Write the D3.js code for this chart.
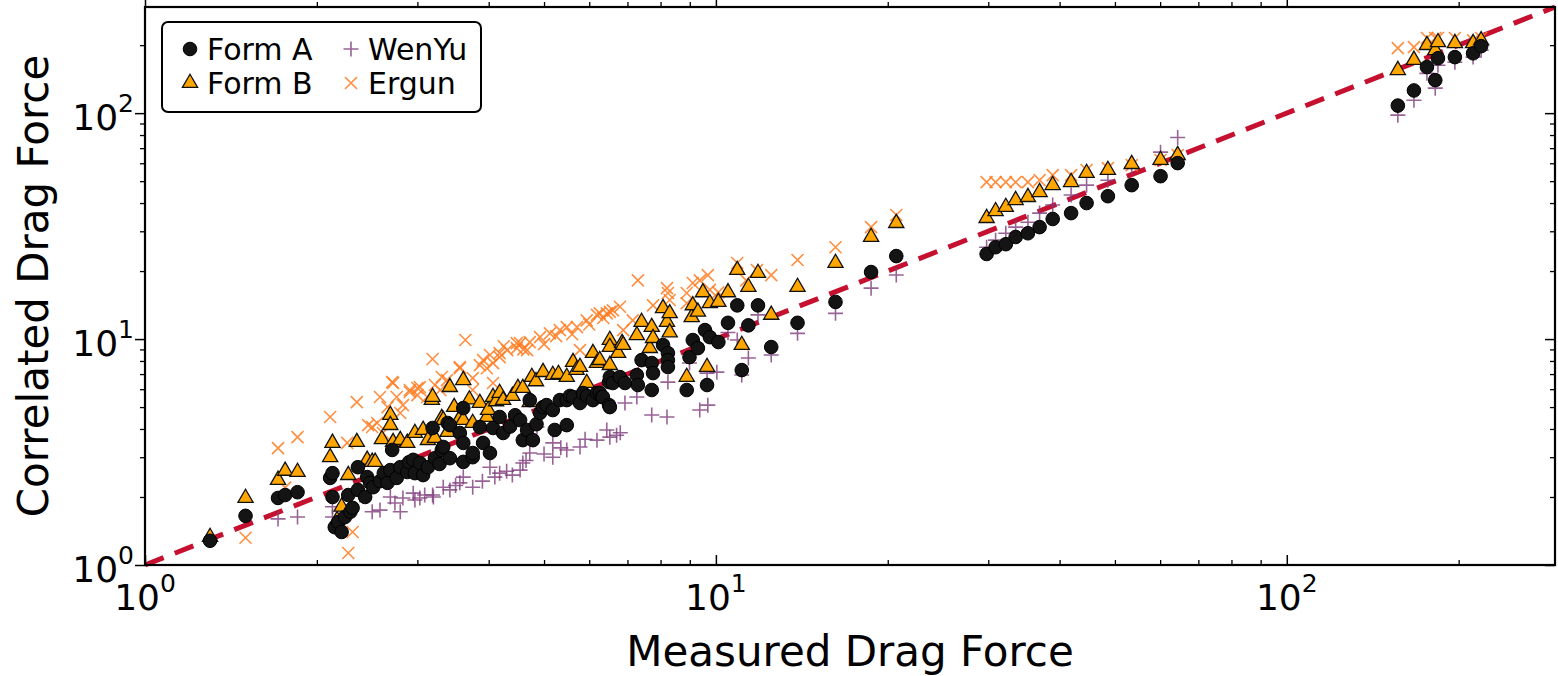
<!DOCTYPE html>
<html>
<head>
<meta charset="utf-8">
<script src="https://cdn.jsdelivr.net/npm/d3@7"></script>
<style>
  body { margin: 0; background: #fff; }
  text { font-family: "DejaVu Sans", sans-serif; }
</style>
</head>
<body>
<svg></svg>
<script>
// [measured, correlated] drag force pairs
const formA = [
  [1.30,1.28],[1.50,1.65],[1.71,1.98],[1.76,2.04],[1.85,2.10],
  [2.11,2.43],[2.13,2.55],[2.13,2.00],[2.15,1.47],[2.18,1.55],[2.21,1.40],[2.24,1.63],[2.27,2.04],[2.29,1.72],[2.31,1.79],
  [2.36,2.71],[2.36,2.15],[2.43,2.00],[2.45,2.45],[2.48,2.31],[2.51,2.21],[2.58,2.35],[2.62,2.55],
  [2.66,2.31],[2.69,2.63],[2.71,3.23],[2.76,2.43],[2.80,2.71],[2.88,2.58],[2.90,2.85],[2.95,2.92],[2.97,2.55],[3.03,2.83],[3.07,2.50],
  [3.13,2.71],[3.19,4.04],[3.22,2.97],[3.28,2.80],[3.31,3.23],[3.33,3.33],[3.39,4.25],[3.42,2.97],[3.42,4.16],[3.56,3.84],[3.61,3.47],
  [3.61,2.86],[3.61,4.95],[3.75,3.00],[3.75,3.13],[3.86,4.08],[3.91,3.47],[4.02,3.13],[4.07,4.04],[4.18,4.52],[4.24,3.84],
  [4.36,4.10],[4.45,4.60],[4.54,4.38],[4.59,3.57],[4.67,3.96],[4.72,5.37],[4.78,3.57],[4.85,4.20],[4.92,4.71],[4.98,5.00],
  [5.05,5.10],[5.18,4.85],[5.22,3.96],[5.33,5.37],[5.48,5.37],[5.48,4.16],[5.55,5.60],[5.62,5.54],[5.78,5.21],[5.85,5.77],
  [5.95,5.60],[6.09,5.37],[6.19,5.77],[6.26,5.77],[6.31,5.54],[6.34,5.54],
  [6.50,6.45],[6.50,5.10],[6.52,5.00],[6.52,6.79],[6.60,6.39],[6.79,6.79],[6.93,6.39],
  [7.27,6.93],[7.30,6.26],[7.41,8.07],[7.72,7.83],[7.72,5.95],[7.76,7.07],[8.08,9.41],[8.24,8.67],[8.24,8.07],[8.24,7.52],
  [8.89,5.95],[8.99,8.32],[9.11,9.90],[9.30,9.12],[9.57,10.96],[9.65,6.26],[9.76,10.2],[10.1,9.70],[10.5,11.8],[10.9,14.1],
  [11.1,7.29],[11.4,11.5],[11.85,14.1],[12.5,9.22],[13.9,11.8],[16.2,14.6],[18.7,19.8],[20.7,23.3],
  [29.8,23.8],[30.9,25.5],[32.2,26.3],[33.5,28.3],[35.2,29.4],[36.9,31.3],[38.9,34.0],[41.9,36.1],[44.6,40.0],[48.6,42.9],
  [53.5,48.0],[60.1,52.6],[64.4,60.1],
  [156.5,108],[167,126],[176,160],[182,140],[184,175],[197,177],[212,184],[219,198]
];

const formB = [
  [1.30,1.33],[1.50,1.98],[1.71,2.38],[1.76,2.61],[1.85,2.58],
  [2.11,3.00],[2.13,3.47],[2.17,1.58],[2.21,1.81],[2.27,2.50],[2.35,3.50],[2.45,2.92],[2.50,2.86],[2.53,2.86],[2.60,3.60],
  [2.69,4.61],[2.69,4.16],[2.72,3.50],[2.80,3.57],[2.88,3.47],[2.97,3.84],[3.07,3.96],[3.13,3.57],[3.18,5.37],[3.19,5.54],
  [3.22,3.65],[3.31,4.47],[3.33,4.38],[3.39,3.88],[3.42,6.13],[3.48,5.00],[3.56,4.47],[3.61,6.58],[3.61,4.38],[3.70,5.40],[3.75,4.25],
  [3.86,5.21],[3.97,4.52],[3.99,4.85],[4.07,5.54],[4.12,5.30],[4.18,5.77],[4.24,5.37],[4.40,5.60],[4.50,6.07],[4.59,6.07],
  [4.72,5.26],[4.76,6.79],[4.84,6.50],[4.98,7.14],[5.18,6.93],[5.30,7.00],[5.48,6.79],[5.62,7.91],[5.70,7.30],[5.78,7.52],
  [5.94,6.39],[6.09,8.67],[6.19,7.83],[6.26,8.07],[6.52,9.90],
  [6.52,9.22],[6.52,7.67],[6.74,8.67],[6.85,9.60],[6.88,9.41],[7.27,10.4],[7.41,11.9],[7.66,9.12],[7.72,11.3],[7.76,10.1],
  [8.08,13.7],[8.21,11.9],[8.30,13.0],[8.30,10.7],[8.89,6.79],[9.07,12.5],[9.11,14.1],[9.30,13.2],[9.49,16.1],[9.65,7.52],
  [9.76,14.4],[10.1,14.6],[10.5,16.1],[10.9,20.2],[11.1,9.41],[11.4,17.0],[11.85,19.6],[12.5,12.8],[13.9,17.0],
  [16.2,21.7],[18.7,28.3],[20.7,32.6],
  [29.8,34.3],[30.9,36.8],[32.2,38.4],[33.5,41.2],[35.2,42.5],[36.9,44.7],[38.9,48.0],[41.9,49.5],[44.6,54.3],[48.6,56.0],
  [53.5,59.5],[60.1,62.0],[64.4,65.2],
  [156.5,155],[167,172],[176,200],[182,190],[184,206],[197,204],[212,204],[219,210]
];

const wenYu = [
  [1.71,1.60],[1.85,1.63],
  [2.13,1.81],[2.13,1.63],[2.38,2.04],[2.50,1.72],[2.58,1.75],[2.69,2.00],[2.74,1.88],[2.80,1.72],[2.83,1.98],[2.95,2.08],
  [2.97,1.94],[3.03,1.98],[3.09,2.04],[3.19,2.04],[3.20,2.00],[3.33,2.21],[3.42,2.15],[3.50,2.25],[3.56,2.31],[3.61,2.45],[3.75,2.21],
  [3.90,2.35],[4.02,2.71],[4.10,2.45],[4.18,2.55],[4.30,2.60],[4.40,2.50],[4.54,2.63],[4.59,2.83],[4.65,2.90],[4.72,3.13],[4.86,4.08],
  [5.00,3.10],[5.18,3.47],[5.18,3.00],[5.35,3.30],[5.48,3.23],[5.78,3.33],[5.90,3.60],[6.19,3.57],[6.44,3.96],[6.52,3.68],[6.70,3.75],[6.80,3.85],
  [6.93,5.21],[7.27,5.54],[7.72,4.61],[8.21,4.52],[8.24,6.45],[8.99,7.83],[9.37,4.85],[9.65,7.07],[9.68,5.10],[10.04,7.14],
  [10.5,10.7],[10.9,9.90],[11.1,6.93],[11.4,8.24],[11.85,12.8],[12.5,8.50],[13.9,10.6],
  [16.2,13.0],[18.7,16.8],[20.7,19.2],
  [29.8,25.5],[30.9,27.4],[32.2,29.4],[33.5,31.3],[35.2,32.9],[36.9,36.1],[38.9,39.2],[41.9,43.4],[44.6,48.0],[48.6,50.5],
  [53.5,57.7],[60.1,67.2],[64.4,78],
  [156.5,98],[167,114],[176,150],[182,129],[184,163],[197,168],[212,177],[219,190]
];

const ergun = [
  [1.50,1.32],[1.71,3.29],[1.76,2.20],[1.85,3.68],
  [2.11,4.52],[2.26,3.47],[2.27,1.13],[2.31,1.40],[2.35,5.26],[2.46,4.16],[2.50,4.08],[2.55,4.25],[2.58,5.54],[2.61,3.84],
  [2.66,5.00],[2.71,6.45],[2.72,6.39],[2.76,5.54],[2.80,4.71],[2.83,5.10],[2.91,5.95],[2.91,5.83],[3.00,5.65],[3.00,6.07],
  [3.03,6.13],[3.12,5.54],[3.19,8.16],[3.22,6.26],[3.29,5.95],[3.31,6.79],[3.38,6.58],[3.56,7.43],[3.56,7.52],[3.64,9.90],
  [3.75,6.72],[3.75,5.95],[3.86,7.67],[3.91,8.07],[3.97,7.43],[4.02,8.50],[4.07,7.83],[4.07,6.39],[4.18,8.32],[4.18,8.67],
  [4.25,9.30],[4.31,8.94],[4.48,9.60],[4.48,9.12],[4.54,9.60],[4.60,9.00],[4.67,8.94],[4.72,9.70],[4.92,10.2],[5.00,9.50],
  [5.12,10.6],[5.25,10.3],[5.33,10.96],[5.48,11.3],[5.60,10.5],
  [5.71,11.3],[5.78,8.94],[5.94,12.1],[6.00,11.6],[6.19,12.8],[6.26,13.0],[6.35,12.4],[6.44,13.0],[6.52,13.2],[6.60,13.4],
  [6.79,13.9],[6.88,10.96],
  [7.15,12.1],[7.30,18.2],[7.76,14.1],[8.21,16.8],[8.24,16.0],[8.30,14.9],[8.89,16.0],[8.89,14.4],[9.11,17.7],[9.37,18.2],
  [9.68,19.2],[9.76,16.5],[10.1,16.1],[10.9,21.7],[11.3,18.2],[11.8,20.2],[12.5,19.2],[13.9,22.4],
  [16.2,25.5],[18.7,31.3],[20.7,35.4],
  [29.8,49.5],[30.9,49.5],[32.2,49.5],[33.5,49.5],[35.2,49.5],[36.9,50.5],[38.9,53.2],[41.9,53.2],[44.6,56.0],[48.6,57.1],
  [53.5,58.9],[60.1,62.0],[64.4,65.2],
  [156.5,194],[167,196],[176,215],[182,215],[184,215],[197,215],[212,210],[219,215]
];

const legendLabels = ["Form A", "Form B", "WenYu", "Ergun"];
const majorTicks = [1, 10, 100];
const tickExponents = ["0", "1", "2"];

const width = 1558, height = 676;
const plotL = 145, plotR = 1555, plotT = 7, plotB = 565;

const svg = d3.select("svg")
  .attr("width", width)
  .attr("height", height)
  .style("background", "#fff");

const x = d3.scaleLog().domain([1, 295]).range([plotL, plotR]);
const y = d3.scaleLog().domain([1, 295]).range([plotB, plotT]);

const minorTicks = x.ticks().filter(d => majorTicks.indexOf(d) < 0);

// 1:1 line
svg.append("line")
  .attr("x1", x(1)).attr("y1", y(1))
  .attr("x2", x(295)).attr("y2", y(295))
  .attr("stroke", "#c5102f")
  .attr("stroke-width", 5)
  .attr("stroke-dasharray", "20,12");

// marker shapes
const plusPath = "M-7.5,0H7.5M0,-7.5V7.5";
const crossPath = "M-6,-6L6,6M-6,6L6,-6";
const triPath = d3.symbol().type(d3.symbolTriangle).size(100)();

function drawErgun(g, data) {
  g.selectAll("path").data(data).enter().append("path")
    .attr("d", crossPath)
    .attr("transform", d => `translate(${x(d[0])},${y(d[1])})`)
    .attr("fill", "none")
    .attr("stroke", "#ff7a1f")
    .attr("stroke-opacity", 0.85)
    .attr("stroke-width", 1.6);
}
function drawWen(g, data) {
  g.selectAll("path").data(data).enter().append("path")
    .attr("d", plusPath)
    .attr("transform", d => `translate(${x(d[0])},${y(d[1])})`)
    .attr("fill", "none")
    .attr("stroke", "#7e3c7c")
    .attr("stroke-opacity", 0.8)
    .attr("stroke-width", 1.6);
}
function drawB(g, data) {
  g.selectAll("path").data(data).enter().append("path")
    .attr("d", triPath)
    .attr("transform", d => `translate(${x(d[0])},${y(d[1])})`)
    .attr("fill", "#ffa600")
    .attr("stroke", "#111")
    .attr("stroke-width", 1.3);
}
function drawA(g, data) {
  g.selectAll("circle").data(data).enter().append("circle")
    .attr("cx", d => x(d[0]))
    .attr("cy", d => y(d[1]))
    .attr("r", 6.8)
    .attr("fill", "#141414")
    .attr("stroke", "#000")
    .attr("stroke-width", 1);
}

const plot = svg.append("g");
drawWen(plot.append("g"), wenYu);
drawErgun(plot.append("g"), ergun);
drawB(plot.append("g"), formB);
drawA(plot.append("g"), formA);

// axes with inward ticks on all four sides
function axisSet(axisFn, scale, pos, horizontal) {
  const tr = horizontal ? `translate(0,${pos})` : `translate(${pos},0)`;
  const sign = (axisFn === d3.axisBottom || axisFn === d3.axisRight) ? -1 : 1;
  const gMinor = svg.append("g").attr("transform", tr)
    .call(axisFn(scale).tickValues(minorTicks).tickSize(sign * 5).tickSizeOuter(0).tickFormat(""));
  gMinor.select(".domain").remove();
  gMinor.selectAll("line").attr("stroke-width", 1.3);
  const gMajor = svg.append("g").attr("transform", tr)
    .call(axisFn(scale).tickValues(majorTicks).tickSize(sign * 10).tickSizeOuter(0).tickFormat(""));
  gMajor.select(".domain").remove();
  gMajor.selectAll("line").attr("stroke-width", 1.5);
}
axisSet(d3.axisBottom, x, plotB, true);
axisSet(d3.axisTop, x, plotT, true);
axisSet(d3.axisLeft, y, plotL, false);
axisSet(d3.axisRight, y, plotR, false);

svg.append("rect")
  .attr("x", plotL).attr("y", plotT)
  .attr("width", plotR - plotL).attr("height", plotB - plotT)
  .attr("fill", "none")
  .attr("stroke", "#000")
  .attr("stroke-width", 2.2);

// tick labels 10^n
majorTicks.forEach((v, i) => {
  const tx = svg.append("text")
    .attr("x", x(v)).attr("y", 610)
    .attr("text-anchor", "middle")
    .attr("fill", "#000");
  tx.append("tspan").attr("font-size", 36).text("10");
  tx.append("tspan").attr("font-size", 25).attr("dy", -18).text(tickExponents[i]);

  const ty = svg.append("text")
    .attr("x", 134).attr("y", y(v) + 17)
    .attr("text-anchor", "end")
    .attr("fill", "#000");
  ty.append("tspan").attr("font-size", 36).text("10");
  ty.append("tspan").attr("font-size", 25).attr("dy", -18).text(tickExponents[i]);
});

// axis titles
svg.append("text")
  .attr("x", (plotL + plotR) / 2).attr("y", 666)
  .attr("text-anchor", "middle")
  .attr("font-size", 42)
  .text("Measured Drag Force");

svg.append("text")
  .attr("transform", `translate(48,${(plotT + plotB) / 2}) rotate(-90)`)
  .attr("text-anchor", "middle")
  .attr("font-size", 42)
  .text("Correlated Drag Force");

// legend
const leg = svg.append("g");
leg.append("rect")
  .attr("x", 162).attr("y", 22)
  .attr("width", 319).attr("height", 90)
  .attr("rx", 6)
  .attr("fill", "#fff")
  .attr("stroke", "#000")
  .attr("stroke-width", 2);

const legPos = [[190, 49], [190, 83], [351, 49], [351, 83]];
const legDraw = [drawA, drawB, drawWen, drawErgun];
legendLabels.forEach((lab, i) => {
  const [px, py] = legPos[i];
  const g = leg.append("g");
  // place marker by inverting the scales so the drawing functions can be reused
  legDraw[i](g, [[x.invert(px), y.invert(py)]]);
  leg.append("text")
    .attr("x", px + 17).attr("y", py + 11)
    .attr("font-size", 30)
    .text(lab);
});
</script>
</body>
</html>
